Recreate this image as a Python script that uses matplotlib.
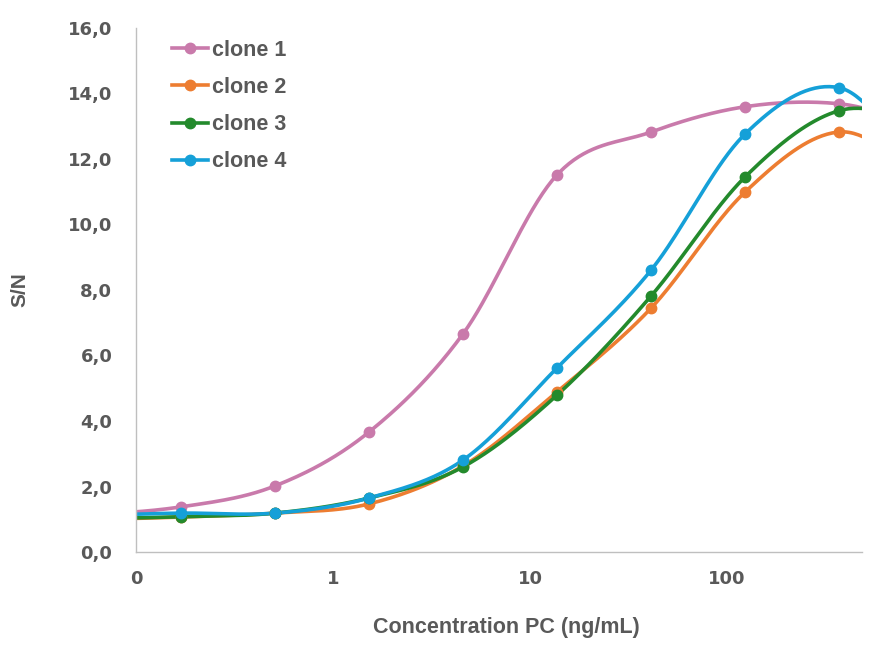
import numpy as np
import matplotlib.pyplot as plt

# concentrations (ng/mL), 3-fold dilution series
conc = [0.169, 0.508, 1.52, 4.57, 13.7, 41.2, 123.5, 370.4]
# dilution steps just outside the plotted range (only shape the curve ends)
conc_lo = 0.0564
conc_hi = 1111.0

clone1 = [1.38, 2.02, 3.66, 6.66, 11.51, 12.82, 13.59, 13.68]
clone2 = [1.07, 1.19, 1.47, 2.63, 4.89, 7.45, 10.99, 12.82]
clone3 = [1.08, 1.19, 1.65, 2.60, 4.79, 7.82, 11.45, 13.47]
clone4 = [1.19, 1.19, 1.65, 2.81, 5.62, 8.61, 12.76, 14.17]

edge_lo = [1.15, 1.00, 1.02, 1.12]
edge_hi = [13.03, 11.49, 13.10, 11.60]

names = ["clone 1", "clone 2", "clone 3", "clone 4"]
colors = ["#C97AAB", "#ED7D31", "#238A2C", "#15A0D8"]

x_ticks = [0.1, 1, 10, 100]
x_ticklabels = ["0", "1", "10", "100"]
y_ticks = np.arange(0, 17, 2)

plt.rcParams['font.family'] = ['Liberation Sans', 'DejaVu Sans']
grey = "#595959"


def smooth(xs, ys, n=40):
    # catmull-rom through the points, done in log-x space
    px = np.log10(xs)
    py = np.array(ys, dtype=float)
    out_x, out_y = [], []
    for i in range(1, len(px) - 2):
        t = np.linspace(0, 1, n)
        h00 = 2 * t**3 - 3 * t**2 + 1
        h10 = t**3 - 2 * t**2 + t
        h01 = -2 * t**3 + 3 * t**2
        h11 = t**3 - t**2
        for arr, src in ((out_x, px), (out_y, py)):
            m1 = (src[i + 1] - src[i - 1]) / 2
            m2 = (src[i + 2] - src[i]) / 2
            arr.extend(h00 * src[i] + h10 * m1 + h01 * src[i + 1] + h11 * m2)
    return 10 ** np.array(out_x), np.array(out_y)


fig = plt.figure(figsize=(8.77, 6.45), dpi=100)
ax = fig.add_axes([0.155, 0.144, 0.828, 0.813])

series = [clone1, clone2, clone3, clone4]
for k in range(4):
    xs = [conc_lo / 3, conc_lo] + conc + [conc_hi, conc_hi * 3]
    ys = [edge_lo[k], edge_lo[k]] + series[k] + [edge_hi[k], edge_hi[k]]
    sx, sy = smooth(xs, ys)
    ax.plot(sx, sy, color=colors[k], lw=2.6, solid_capstyle='round', zorder=2 + k * 0.1)
    ax.plot(conc, series[k], 'o', color=colors[k], ms=7.5, zorder=3 + k * 0.1)
    # legend handle
    ax.plot([], [], '-o', color=colors[k], lw=2.6, ms=7.5, label=names[k])

ax.set_xscale('log')
ax.set_xlim(0.1, 10 ** 2.685)
ax.set_ylim(0, 16)
ax.set_xticks(x_ticks)
ax.set_xticklabels(x_ticklabels)
ax.xaxis.set_minor_locator(plt.NullLocator())
ax.set_yticks(y_ticks)
ax.set_yticklabels([f"{v:.1f}".replace(".", ",") for v in y_ticks])

for s in ['top', 'right']:
    ax.spines[s].set_visible(False)
for s in ['left', 'bottom']:
    ax.spines[s].set_color("#BFBFBF")
    ax.spines[s].set_linewidth(1.0)

ax.tick_params(axis='y', length=0, pad=17)
ax.tick_params(axis='x', length=0, pad=13)
for lab in ax.get_xticklabels() + ax.get_yticklabels():
    lab.set_fontweight('bold')
    lab.set_fontsize(13)
    lab.set_color(grey)
    lab.set_family('DejaVu Sans')

ax.set_xlabel("Concentration PC (ng/mL)", fontsize=15.5, fontweight='bold', color=grey, va='center')
ax.xaxis.set_label_coords(0.51, -0.143)
ax.set_ylabel("S/N", fontsize=15, fontweight='bold', color=grey, va='center')
ax.yaxis.set_label_coords(-0.16, 0.5)

leg = ax.legend(loc='upper left', bbox_to_anchor=(0.0496, 0.977), frameon=False,
                borderaxespad=0, borderpad=0,
                fontsize=15.5, handlelength=1.67, handletextpad=0.2, labelspacing=0.75)
for t in leg.get_texts():
    t.set_color(grey)
    t.set_fontweight('bold')

fig.savefig("out.png", dpi=100)
